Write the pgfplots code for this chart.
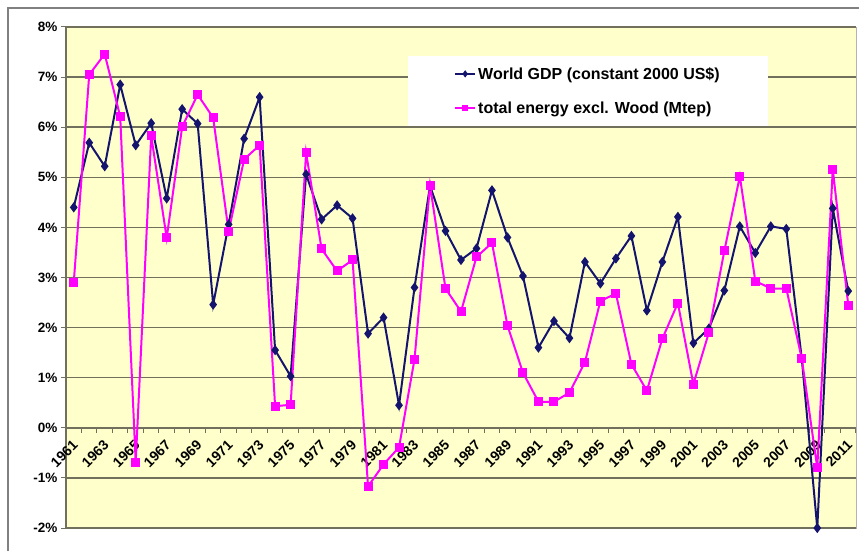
\documentclass[border=0pt]{standalone}
\usepackage{fontspec}
\setmainfont{Liberation Sans}
\usepackage{pgfplots}
\pgfplotsset{compat=1.18}
\definecolor{bgyellow}{RGB}{255,255,204}
\definecolor{gridcol}{RGB}{112,112,92}
\definecolor{gdpcol}{RGB}{20,20,110}
\definecolor{encol}{RGB}{255,0,255}
\definecolor{framecol}{RGB}{128,128,128}

\begin{document}
\begin{tikzpicture}
\useasboundingbox (-66pt,-22pt) rectangle (793pt,528pt);
\draw[framecol,line width=1.5pt] (-58pt,-60pt) rectangle (840pt,520pt);
\begin{axis}[
  scale only axis, width=790pt, height=501pt,
  xmin=1960.5, xmax=2011.5, ymin=-2, ymax=8,
  axis x line*=middle, axis y line*=left,
  axis line style={gridcol,line width=1.2pt,-},
  axis background/.style={fill=bgyellow,draw=framecol!60,line width=0.8pt},
  xtick={1961,1963,...,2011}, major x tick style={draw=none},
  minor xtick={1960.5,1961.5,...,2011.5},
  minor x tick style={gridcol,line width=1pt},
  minor tick length=5pt, major tick length=5pt,
  tick align=outside,
  ytick={-2,-1,...,8},
  yticklabels={-2\%,-1\%,0\%,1\%,2\%,3\%,4\%,5\%,6\%,7\%,8\%},
  ytick style={gridcol,line width=1pt},
  ymajorgrids, grid style={gridcol,line width=1.5pt},
  /pgf/number format/assume math mode=true,
  /pgf/number format/1000 sep={},
  yticklabel style={font=\bfseries\fontsize{13.5}{15}\selectfont},
  xticklabel style={font=\bfseries\fontsize{14}{16}\selectfont,
    xshift=-2pt,yshift=-5pt,rotate=45,anchor=north east,inner sep=1pt},
  clip=false,
  legend style={at={(0.4329,0.9421)},anchor=north west,draw=none,fill=white,
    inner xsep=46pt,inner ysep=9pt,row sep=17pt,
    font=\bfseries\fontsize{16}{18}\selectfont},
  legend cell align=left,
  legend image code/.code={\draw[mark repeat=2,mark phase=2,mark size=2pt] plot coordinates {(0pt,0pt)(10pt,0pt)(20pt,0pt)};},
]
\addplot[gdpcol,line width=2pt,mark=diamond*,mark size=3.5pt] coordinates {
(1961,4.40)(1962,5.69)(1963,5.22)(1964,6.85)(1965,5.64)(1966,6.08)(1967,4.58)
(1968,6.36)(1969,6.07)(1970,2.46)(1971,4.06)(1972,5.77)(1973,6.60)(1974,1.55)
(1975,1.03)(1976,5.06)(1977,4.16)(1978,4.44)(1979,4.18)(1980,1.88)(1981,2.20)
(1982,0.45)(1983,2.80)(1984,4.83)(1985,3.93)(1986,3.35)(1987,3.58)(1988,4.74)
(1989,3.80)(1990,3.03)(1991,1.60)(1992,2.13)(1993,1.79)(1994,3.31)(1995,2.88)
(1996,3.38)(1997,3.83)(1998,2.34)(1999,3.31)(2000,4.21)(2001,1.69)(2002,1.98)
(2003,2.74)(2004,4.02)(2005,3.49)(2006,4.02)(2007,3.97)(2008,1.38)(2009,-2.0)
(2010,4.38)(2011,2.73)};
\addlegendentry{World GDP (constant 2000 US\$)}
\addplot[encol,line width=2pt,mark=square*,mark size=3.5pt] coordinates {
(1961,2.90)(1962,7.05)(1963,7.46)(1964,6.21)(1965,-0.69)(1966,5.83)(1967,3.79)
(1968,6.01)(1969,6.65)(1970,6.19)(1971,3.92)(1972,5.36)(1973,5.64)(1974,0.43)
(1975,0.46)(1976,5.49)(1977,3.57)(1978,3.13)(1979,3.35)(1980,-1.17)(1981,-0.73)
(1982,-0.39)(1983,1.37)(1984,4.84)(1985,2.78)(1986,2.32)(1987,3.41)(1988,3.69)
(1989,2.04)(1990,1.10)(1991,0.52)(1992,0.52)(1993,0.70)(1994,1.31)(1995,2.53)
(1996,2.68)(1997,1.27)(1998,0.74)(1999,1.78)(2000,2.49)(2001,0.87)(2002,1.90)
(2003,3.53)(2004,5.02)(2005,2.93)(2006,2.78)(2007,2.78)(2008,1.38)(2009,-0.80)
(2010,5.16)(2011,2.45)};
\addlegendentry{total energy excl. Wood (Mtep)}
\end{axis}
\end{tikzpicture}
\end{document}
